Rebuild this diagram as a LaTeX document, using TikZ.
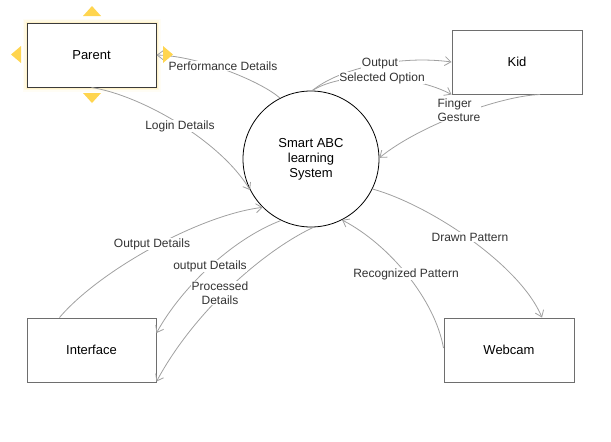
\documentclass[tikz,border=0pt]{standalone}
\usepackage{fontspec}
\setmainfont{Liberation Sans}
\usetikzlibrary{arrows.meta}
\definecolor{edgegray}{HTML}{A0A0A0}
\definecolor{boxgray}{HTML}{6E6E6E}
\definecolor{parentborder}{HTML}{3A3A3A}
\definecolor{selyellow}{HTML}{FFD54F}
\definecolor{labeltext}{HTML}{333333}
\tikzset{
  entity/.style={draw=boxgray, line width=1pt, fill=white, minimum width=129pt,
    minimum height=64pt, inner sep=0pt, font=\fontsize{13}{15}\selectfont},
  flow/.style={draw=edgegray, line width=0.8pt, -{Straight Barb[length=6pt,width=9pt]}},
  flowlabel/.style={fill=white, inner sep=0.5pt, font=\fontsize{12}{13.5}\selectfont, text=labeltext},
  handle/.style={fill=selyellow, draw=none},
}
\begin{document}
\begin{tikzpicture}[x=1pt,y=-1pt]
\useasboundingbox (0,0) rectangle (611,442);
% selection glow
\foreach \w/\o in {9/0.06,6/0.1,3/0.18}
  \draw[selyellow, line width=\w pt, opacity=\o] (27,23) rectangle (156,87);
% nodes
\node[entity, draw=parentborder] (parent) at (91.5,55) {Parent};
\node[entity, minimum width=130pt] (kid) at (517,62) {Kid};
\node[entity] (iface) at (91.5,350) {Interface};
\node[entity, minimum width=130pt] (webcam) at (509,350) {Webcam};
\node[draw=black, line width=0.8pt, circle, minimum size=136pt, inner sep=0pt,
  align=center, font=\fontsize{13}{15}\selectfont] (sys) at (311,159) {Smart ABC\\learning\\System};
% flows
\draw[flow] (sys.117) .. controls (262,82) and (200,56) .. (parent.east);
\draw[flow] (parent.south) .. controls (140,95) and (220,140) .. (sys.207);
\draw[flow] (sys.89) .. controls (340,68) and (400,55) .. (kid.west);
\draw[flow] (sys.89) .. controls (345,70) and (415,75) .. (kid.south west);
\draw[flow] ([xshift=23pt]kid.south) .. controls (500,96) and (420,125) .. (sys.1);
\draw[flow] ([xshift=-32pt]iface.north) .. controls (100,270) and (200,215) .. (sys.225);
\draw[flow] (sys.244) .. controls (230,240) and (180,290) .. ([yshift=17pt]iface.east);
\draw[flow] (sys.272) .. controls (265,250) and (195,310) .. ([yshift=1pt]iface.south east);
\draw[flow] (sys.334) .. controls (430,205) and (520,265) .. ([xshift=33pt]webcam.north);
\draw[flow] ([yshift=2pt]webcam.west) .. controls (435,300) and (390,245) .. (sys.297);
% selection handles
\fill[handle] (83,16) -- (101,16) -- (92,6) -- cycle;
\fill[handle] (83,93) -- (101,93) -- (92,103) -- cycle;
\fill[handle] (21,46) -- (21,63) -- (11,54.5) -- cycle;
\fill[handle] (163,46) -- (163,63) -- (173,54.5) -- cycle;
% labels
\node[flowlabel] (lperf) at (223,66) {Performance Details};
\node[flowlabel] (llogin) at (180,126) {Login Details};
\node[flowlabel] (lsel) at (382,78) {Selected Option};
\node[flowlabel] (lout) at (380,63.5) {Output};
\node[flowlabel, align=left, font=\fontsize{12}{14}\selectfont] (lfing) at (459,110) {Finger\\Gesture};
\node[flowlabel] (loutd) at (152,244) {Output Details};
\node[flowlabel] (loutd2) at (210,266) {output Details};
\node[flowlabel, align=center] (lproc) at (220,293) {Processed\\Details};
\node[flowlabel] (ldrawn) at (470,237) {Drawn Pattern};
\node[flowlabel] (lrec) at (406,274) {Recognized Pattern};
\end{tikzpicture}
\end{document}
